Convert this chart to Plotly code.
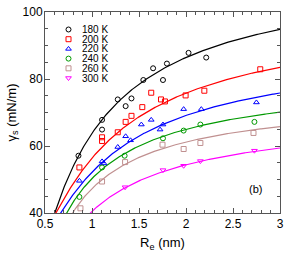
import numpy as np
import plotly.graph_objects as go

# Data
labels = ["180 K", "200 K", "220 K", "240 K", "260 K", "300 K"]
colors = ["#000000", "#ff0000", "#0000ff", "#009900", "#c09090", "#ff00ff"]
symbols = ["circle-open", "square-open", "triangle-up-open", "circle-open", "square-open", "triangle-down-open"]

x_tickvals = [0.5, 1, 1.5, 2, 2.5, 3]
x_ticktext = ["0.5", "1", "1.5", "2", "2.5", "3"]
y_tickvals = [40, 60, 80, 100]

r_180 = [0.856, 1.107, 1.107, 1.274, 1.358, 1.42, 1.546, 1.65, 1.755, 1.797, 2.027, 2.215]
g_180 = [57.1, 64.9, 67.8, 73.9, 71.9, 74.2, 79.7, 83.2, 79.7, 84.6, 87.8, 86.4]

r_200 = [0.866, 1.107, 1.107, 1.274, 1.358, 1.42, 1.535, 1.63, 1.734, 1.776, 1.996, 2.195, 2.79]
g_200 = [53.6, 62.6, 61.5, 64.1, 67.2, 69.0, 71.6, 75.9, 73.9, 73.3, 75.1, 76.5, 82.9]

r_220 = [0.866, 1.107, 1.128, 1.274, 1.358, 1.41, 1.525, 1.63, 1.724, 1.755, 1.975, 2.163, 2.749]
g_220 = [49.6, 55.4, 54.8, 59.7, 62.9, 61.7, 66.4, 67.8, 64.9, 66.4, 71.0, 71.0, 73.0]

r_240 = [0.866, 1.107, 1.347, 1.755, 1.975, 2.153, 2.728]
g_240 = [44.8, 53.6, 57.1, 62.3, 64.6, 66.4, 67.2]

r_260 = [0.877, 1.107, 1.352, 1.75, 1.975, 2.153, 2.718]
g_260 = [41.4, 49.4, 55.2, 60.4, 59.1, 60.9, 63.9]

r_300 = [1.352, 1.755, 1.975, 2.153, 2.728]
g_300 = [47.7, 52.8, 54.1, 55.5, 58.6]

# Fit-curve parameters (gamma = a + b/R + c/R^2)
fit_a = [112.9, 100.76, 90.8, 80.6, 74.95, 69.96]
fit_b = [-56.8, -55.5, -48.1, -32.1, -27.37, -32.8]
fit_c = [7.70, 11.14, 9.51, 1.80, -0.28, 3.35]

xs = [r_180, r_200, r_220, r_240, r_260, r_300]
ys = [g_180, g_200, g_220, g_240, g_260, g_300]

fig = go.Figure()
R = np.linspace(0.5, 3.0, 300)
for i in range(6):
    gam = fit_a[i] + fit_b[i] / R + fit_c[i] / R**2
    fig.add_trace(go.Scatter(x=R, y=gam, mode="lines", line=dict(color=colors[i], width=1.2),
                             showlegend=False, hoverinfo="skip"))
for i in range(6):
    fig.add_trace(go.Scatter(x=xs[i], y=ys[i], mode="markers", name=labels[i], showlegend=False,
                             marker=dict(symbol=symbols[i], size=5, color=colors[i],
                                         line=dict(width=1, color=colors[i]))))

# Compact legend drawn on an overlay axis (0..1 in both directions)
leg_x0 = 0.10
leg_y0 = 0.913
leg_dy = 0.0483
fnt = "Liberation Sans, Arial, sans-serif"
for i in range(6):
    fig.add_trace(go.Scatter(x=[leg_x0], y=[leg_y0 - i * leg_dy], xaxis="x2", yaxis="y2",
                             mode="markers", showlegend=False, hoverinfo="skip",
                             marker=dict(symbol=symbols[i], size=5, color=colors[i],
                                         line=dict(width=1, color=colors[i]))))
    fig.add_annotation(x=leg_x0 + 0.048, y=leg_y0 - i * leg_dy, xref="x2", yref="y2",
                       text=labels[i], showarrow=False, xanchor="left", yanchor="middle",
                       font=dict(size=10, family=fnt, color="black"))

axis_common = dict(showgrid=False, zeroline=False, showline=True, linecolor="#555555", linewidth=1,
                   mirror="allticks", ticks="inside", ticklen=5, tickcolor="#555555",
                   ticklabeloverflow="allow",
                   tickfont=dict(size=12, color="black", family=fnt))
fig.update_xaxes(range=[0.5, 3], tickvals=x_tickvals, ticktext=x_ticktext,
                 minor=dict(ticks="inside", dtick=0.1, tick0=0.5, ticklen=3, tickcolor="#555555"),
                 title=dict(text="R<sub>e</sub> (nm)", font=dict(size=13, family=fnt, color="black"), standoff=7),
                 **axis_common)
fig.update_yaxes(range=[40, 100], tickvals=y_tickvals, ticklabelstandoff=-1,
                 minor=dict(ticks="inside", dtick=5, tick0=40, ticklen=3, tickcolor="#555555"),
                 title=dict(text="γ<sub>s</sub> (mN/m)", font=dict(size=13, family=fnt, color="black"), standoff=3),
                 **axis_common)

fig.add_annotation(x=0.93, y=0.082, xref="paper", yref="paper", text="(b)", showarrow=False,
                   font=dict(size=11, family=fnt, color="black"))

fig.update_layout(width=289, height=253, margin=dict(l=45, r=5, t=6, b=40),
                  paper_bgcolor="white", plot_bgcolor="white", showlegend=False,
                  xaxis2=dict(overlaying="x", range=[0, 1], visible=False),
                  yaxis2=dict(overlaying="y", range=[0, 1], visible=False),
                  font=dict(family=fnt))
fig.write_html("out.html", config={"displayModeBar": False},
               post_script="document.body.style.margin='0';")
